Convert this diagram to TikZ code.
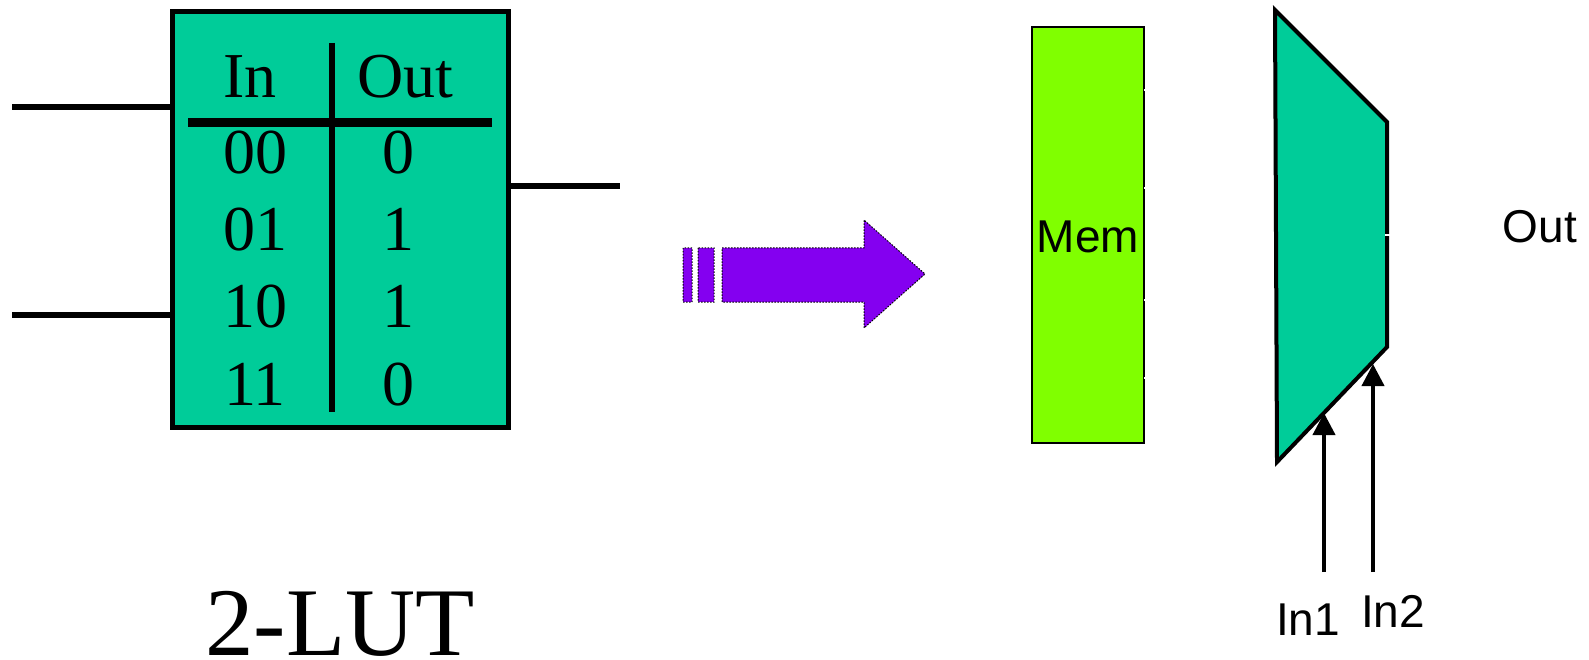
\documentclass[tikz,border=0pt]{standalone}
\usepackage{fontspec}
\setmainfont{Liberation Serif}
\setsansfont{Liberation Sans}
\usetikzlibrary{positioning,calc,arrows.meta}

\definecolor{lutgreen}{RGB}{0,204,153}
\definecolor{memgreen}{RGB}{128,255,0}
\definecolor{bigarrow}{RGB}{132,0,240}

\tikzset{
  wire/.style={line width=5.5pt},
  tabtext/.style={anchor=base,font=\fontsize{64}{70}\selectfont,inner sep=0pt},
  sanslabel/.style={anchor=base,font=\sffamily\fontsize{46}{50}\selectfont,inner sep=0pt},
  selarrow/.style={line width=4pt,-{Triangle[length=22pt,width=22pt]}},
  tick/.style={white,line width=2pt}
}

\begin{document}
\begin{tikzpicture}[x=1pt,y=-1pt]
  \useasboundingbox (0,0) rectangle (1589,660);

  % the lookup table box
  \node[draw,line width=5pt,fill=lutgreen,minimum width=336pt,minimum height=415pt,
        inner sep=0pt] (lut) at (340,219.5) {};
  \coordinate (a) at (12,107);
  \coordinate (b) at (12,315);
  \coordinate (y) at (620,186);
  \draw[wire] (a) -- (a -| lut.west);
  \draw[wire] (b) -- (b -| lut.west);
  \draw[wire] (lut.east |- y) -- (y);

  % truth table
  \draw[line width=5.5pt] (332,43) -- (332,412);
  \draw[line width=9pt] (188,123) -- (492,123);
  \node[tabtext] (hin) at (250,98) {In};
  \node[tabtext] (hout) at (405,98) {Out};
  \foreach [count=\i] \a/\b in {00/0,01/1,10/1,11/0} {
    \node[tabtext] (in\i) at (255,96+77.3*\i) {\a};
    \node[tabtext] (out\i) at (398,96+77.3*\i) {\b};
  }
  \node[anchor=base,font=\fontsize{97}{105}\selectfont,inner sep=0pt] (name) at (340,655) {2-LUT};

  % big arrow
  \fill[bigarrow] (683,248) rectangle (692,302);
  \fill[bigarrow] (698,248) rectangle (714,302);
  \fill[bigarrow] (722,248) -- (864,248) -- (864,220) -- (925,274)
    -- (864,328) -- (864,302) -- (722,302) -- cycle;
  \draw[line width=1pt,dash pattern=on 1.5pt off 1.5pt]
    (683,248) rectangle (692,302) (698,248) rectangle (714,302)
    (722,248) -- (864,248) -- (864,220) -- (925,274)
    -- (864,328) -- (864,302) -- (722,302) -- cycle;

  % memory
  \node[draw,line width=1.5pt,fill=memgreen,minimum width=112pt,minimum height=416pt,
        inner sep=0pt] (mem) at (1088,235) {};
  \node[sanslabel] (memlab) at (1088,252) {Mem};
  \foreach \t in {90,188,300,378}
    \draw[tick] (1144,\t) -- (1148,\t);

  % multiplexer
  \coordinate (m1) at (1275,10);
  \coordinate (m2) at (1387,122);
  \coordinate (m3) at (1387,347);
  \coordinate (m4) at (1277,462);
  \draw[line width=4pt,fill=lutgreen,line join=miter] (m1) -- (m2) -- (m3) -- (m4) -- cycle;
  \draw[tick] (1385,235) -- (1391,235);
  \node[sanslabel] (outlab) at (1540,243) {Out};

  % select inputs
  \coordinate (s1) at (1324,572);
  \coordinate (s2) at (1373,572);
  \coordinate (t1) at (1324,413);
  \coordinate (t2) at (1373,364);
  \draw[selarrow] (s1) -- (t1);
  \draw[selarrow] (s2) -- (t2);
  \node[sanslabel] (sel1) at (1308,635) {In1};
  \node[sanslabel] (sel2) at (1393,627) {In2};
\end{tikzpicture}
\end{document}
